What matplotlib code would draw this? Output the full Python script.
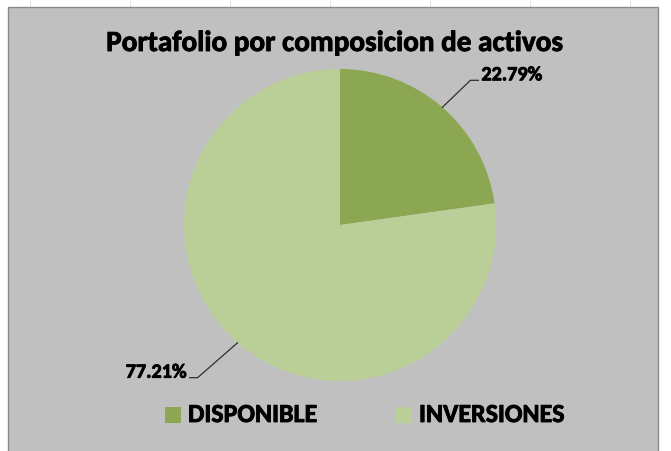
import numpy as np
import matplotlib
matplotlib.use("Agg")
from matplotlib import pyplot as plt
from matplotlib.patches import Rectangle
import matplotlib.patheffects as pe

# data
categorias = ["DISPONIBLE", "INVERSIONES"]
porcentajes = [22.79, 77.21]
colores = ["#8CA752", "#BACF97"]
titulo = "Portafolio por composicion de activos"

# leader line offsets (dx, dy) from slice edge to elbow, in pixels
offsets = [(28, 27), (-40, -35)]

FUENTE = ["Carlito", "DejaVu Sans"]
grueso = [pe.withStroke(linewidth=0.6, foreground="black")]

W, H = 671, 452
fig = plt.figure(figsize=(W / 100, H / 100), dpi=100)
ax = fig.add_axes([0, 0, 1, 1])

# faint spreadsheet grid showing above the chart
for gx in range(30, W, 100):
    ax.plot([gx, gx], [H - 8, H], color="#E2E2E2", lw=0.8, zorder=0)

# chart area (excel style)
ax.add_patch(Rectangle((8, -2), 650, H - 8 + 2, facecolor="#C0C0C0",
                       edgecolor="#8A8A8A", linewidth=1.0, zorder=1))

cx, cy, r = 340, 226, 156
wedges, _ = ax.pie(porcentajes, colors=colores, startangle=90, counterclock=False,
                   center=(cx, cy), radius=r, frame=True,
                   wedgeprops=dict(linewidth=0, zorder=2))
ax.set_xlim(0, W)
ax.set_ylim(0, H)
ax.set_aspect("equal")
ax.axis("off")

# leader lines + labels
for w, p, (dx, dy) in zip(wedges, porcentajes, offsets):
    ang = np.deg2rad((w.theta1 + w.theta2) / 2)
    x0, y0 = cx + r * np.cos(ang), cy + r * np.sin(ang)
    sx = 1 if dx > 0 else -1
    x1, y1 = x0 + dx, y0 + dy
    x2 = x1 + sx * 8
    ax.plot([x0, x1, x2], [y0, y1, y1], color="#303030", lw=0.9, zorder=3)
    ax.text(x2 + sx * 3, y1, "%.2f%%" % p, ha="left" if sx > 0 else "right",
            va="baseline", fontsize=14.5, fontweight="bold", family=FUENTE,
            color="black", path_effects=grueso, zorder=4)

ax.text(334, H - 52, titulo, ha="center", va="baseline", fontsize=21,
        fontweight="bold", family=FUENTE, color="black", path_effects=grueso, zorder=4)

# legend
for i, (cat, col) in enumerate(zip(categorias, colores)):
    lx = 165 + i * 231
    ax.add_patch(Rectangle((lx, H - 424), 16, 16, facecolor=col, edgecolor="none", zorder=3))
    ax.text(lx + 23, H - 423, cat, ha="left", va="baseline", fontsize=18.7,
            fontweight="bold", family=FUENTE, color="black", path_effects=grueso, zorder=4)

fig.savefig("out.png", dpi=100)
